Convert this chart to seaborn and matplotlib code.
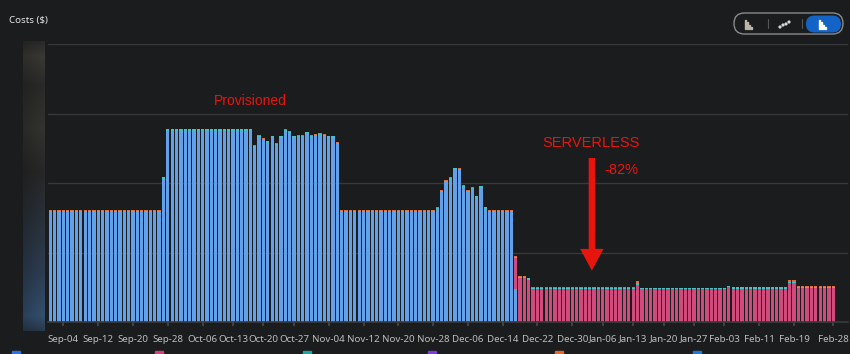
import matplotlib
matplotlib.use("Agg")
import matplotlib.pyplot as plt
from matplotlib.patches import Rectangle, FancyBboxPatch, Circle
import numpy as np
import pandas as pd
import seaborn as sns

# daily costs, in gridline units (4 gridlines on the hidden y axis)
days = pd.date_range("2022-09-01", "2023-02-28", freq="D")

provisioned = ([1.58] * 26 + [2.06] + [2.75] * 20
               + [2.51, 2.66, 2.62, 2.58, 2.65, 2.54, 2.65, 2.74, 2.72, 2.65,
                  2.66, 2.66, 2.71, 2.66, 2.67, 2.69, 2.67, 2.65, 2.65, 2.56]
               + [1.58] * 22
               + [1.62, 1.865, 2.01, 2.05, 2.19, 2.18, 1.94, 1.865, 1.91, 1.79, 1.93, 1.63]
               + [1.58] * 6 + [0.475] + [0] * 73)
serverless = ([0] * 107 + [0.44, 0.63, 0.63, 0.61] + [0.47] * 24 + [0.535]
              + [0.47] * 20 + [0.50] + [0.48] * 13 + [0.56, 0.56] + [0.49] * 9)
storage = [0.02] * 181
other = [0.01] * 135 + [0.03] + [0.005] * 34 + [0.03, 0.03] + [0.01] * 9

tick_labels = ["Sep-04", "Sep-12", "Sep-20", "Sep-28", "Oct-06", "Oct-13", "Oct-20",
               "Oct-27", "Nov-04", "Nov-12", "Nov-20", "Nov-28", "Dec-06", "Dec-14",
               "Dec-22", "Dec-30", "Jan-06", "Jan-13", "Jan-20", "Jan-27", "Feb-03",
               "Feb-11", "Feb-19", "Feb-28"]

BG = "#1b1c1e"
sns.set_theme(style="dark", rc={"axes.facecolor": BG, "figure.facecolor": BG})
plt.rcParams["font.family"] = ["Noto Sans", "DejaVu Sans"]

df = pd.DataFrame({"day": np.arange(len(days)), "provisioned": provisioned,
                   "serverless": serverless, "storage": storage, "other": other})

W, H = 850, 354
fig = plt.figure(figsize=(8.5, 3.54), dpi=100)
ax = fig.add_axes([48 / W, 1 - 322 / H, 800 / W, 278 / H])

layers = [("provisioned", "#62a1ea"), ("serverless", "#d04a7b"),
          ("storage", "#45c2c6"), ("other", "#d9703c")]
bottom = np.zeros(len(df))
for col, c in layers:
    sns.barplot(data=df, x="day", y=col, bottom=bottom, color=c, saturation=1,
                width=0.76, ax=ax, linewidth=0)
    bottom = bottom + df[col].to_numpy()

ax.set_xlim(-0.55, 183.4)
ax.set_ylim(0, 4)
ax.set_yticks([1, 2, 3, 4])
ax.set_yticklabels([])
ax.tick_params(axis="y", length=0)
ax.grid(axis="y", color="#38393b", linewidth=1)
ax.grid(axis="x", visible=False)
ax.set_axisbelow(True)

labels_all = list(days.strftime("%b-%d"))
ax.set_xticks([labels_all.index(t) for t in tick_labels])
ax.set_xticklabels(tick_labels, fontsize=7, color="#bdbdbd")
ax.tick_params(axis="x", length=3, color="#4a4a4a", pad=6, bottom=True)
ax.set_xlabel("")
ax.set_ylabel("")
for s in ["top", "right", "left"]:
    ax.spines[s].set_visible(False)
ax.spines["bottom"].set_color("#3a3b3d")
ax.spines["bottom"].set_linewidth(1.2)

# annotations
red = "#e8150f"
ax.text(45.9, 3.18, "Provisioned", color=red, fontsize=10, ha="center", va="center",
        family="Liberation Sans")
ax.text(124.3, 2.58, "SERVERLESS", color=red, fontsize=10.5, ha="center", va="center",
        family="Liberation Sans")
ax.text(131.4, 2.19, "-82%", color=red, fontsize=10.5, ha="center", va="center",
        family="Liberation Sans")
ax.annotate("", xy=(124.5, 0.70), xytext=(124.5, 2.40),
            arrowprops=dict(arrowstyle="simple,head_width=1.4,head_length=1.3,tail_width=0.38",
                            color=red, lw=0))

# blurred y-axis strip on the left
stops_y = [0, 0.05, 0.15, 0.3, 0.45, 0.6, 0.8, 0.95, 1.0]
stops_c = ["#2a2a2a", "#3a3935", "#2a2a29", "#333331", "#272727", "#2a3038",
           "#2d3e52", "#34506f", "#2a3a4c"]
rgb = np.array([matplotlib.colors.to_rgb(c) for c in stops_c])
yy = np.linspace(0, 1, 290)
colr = np.stack([np.interp(yy, stops_y, rgb[:, k]) for k in range(3)], axis=1)
xf = np.linspace(0.8, 1.0, 22)
img = np.clip(colr[:, None, :] * xf[None, :, None], 0, 1)
sax = fig.add_axes([23 / W, 1 - 331 / H, 22 / W, 290 / H])
sax.imshow(img, aspect="auto", interpolation="bilinear")
sax.axis("off")

# overlay in pixel coordinates for the page chrome
ov = fig.add_axes([0, 0, 1, 1], facecolor="none")
ov.set_xlim(0, W)
ov.set_ylim(H, 0)
ov.axis("off")

ov.text(9, 21, "Costs ($)", color="#e6e6e6", fontsize=7, fontweight="bold",
        va="center", ha="left")

# view switcher top right
ov.add_patch(FancyBboxPatch((734, 13), 109, 21, boxstyle="round,pad=0,rounding_size=10.5",
                            fill=False, edgecolor="#8a8a8a", linewidth=1))
ov.add_patch(FancyBboxPatch((806, 15.5), 35, 17, boxstyle="round,pad=0,rounding_size=8.5",
                            facecolor="#1464c8", edgecolor="none"))
for sx in (768, 802):
    ov.plot([sx, sx], [19, 28], color="#555555", lw=0.8)
for ox, c in ((745, "#bdb6a8"), (819, "#ffffff")):
    for k, h in enumerate((9, 7, 4, 2)):
        ov.add_patch(Rectangle((ox + 2 * k, 29 - h), 1.2, h, color=c))
for dx, dy in ((0, 0), (3, -2), (6, -3), (9, -5)):
    ov.add_patch(Circle((780 + dx, 27 + dy), 0.9, color="#d8d8d8"))

# legend stubs cut off at the bottom edge
for lx, c in ((12, "#2f6fe0"), (155, "#d0407a"), (303, "#1fa5a0"),
              (428, "#7d3ed0"), (555, "#dd6a2a"), (693, "#1f78d0")):
    ov.add_patch(Rectangle((lx, 350.5), 8, 4, color=c))

fig.savefig("out.png", dpi=100, facecolor=BG)
